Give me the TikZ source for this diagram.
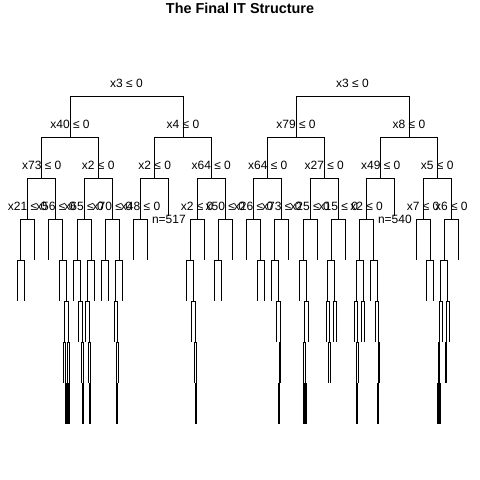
\documentclass[tikz,border=0pt]{standalone}
\usepackage{fontspec}
\setmainfont{Liberation Sans}
\newcommand\lblfont{\fontsize{12}{14}\selectfont}
\tikzset{
  sp/.style={inner sep=0pt, minimum size=0pt, outer sep=0pt},
  lbl/.style={font=\lblfont, yshift=13pt, inner sep=0pt},
  lab/.style={label={[lbl]center:#1}},
  nlbl/.style={font=\lblfont, yshift=0pt, inner sep=0pt},
  nlab/.style={label={[nlbl]center:#1}},
  stub/.style={edge from parent path={(\tikzparentnode.center) -| ([yshift=3.5pt]\tikzchildnode.center)}},
}
\begin{document}
\begin{tikzpicture}[x=1pt, y=-1pt, line width=1pt, grow=down, level distance=41pt,
  level/.style={sibling distance=113pt/(2^(#1-1))},
  edge from parent path={(\tikzparentnode.center) -| (\tikzchildnode.center)}]
\useasboundingbox (0,0) rectangle (480,480);
\node[font=\bfseries\fontsize{14.4}{17}\selectfont, anchor=base] (title) at (240,13) {The Final IT Structure};
% left tree
\node[sp, lab={x3 ≤ 0}] (L) at (126.5,96) {}
  child {node[sp, lab={x40 ≤ 0}] {}
    child {node[sp, lab={x73 ≤ 0}] {}
      child {node[sp, lab={x21 ≤ 0}] {}
        child {node[sp] {} child {node[sp] {}} child {node[sp] {}}}
        child {node[sp] {}}}
      child {node[sp, lab={x56 ≤ 0}] {}
        child {node[sp] {}}
        child {node[sp] {}
          child {node[sp] {}}
          child {node[sp] {}
            child {node[sp] {}
              child {node[sp] {}}
              child {node[sp] {} child {node[sp] {}} child {node[sp] {}}}}
            child {node[sp] {}
              child {node[sp] {} child {node[sp] {}} child {node[sp] {}}}
              child {node[sp] {} child {node[sp] {}} child {node[sp] {}}}}}}}}
    child {node[sp, lab={x2 ≤ 0}] {}
      child {node[sp, lab={x65 ≤ 0}] {}
        child {node[sp] {}
          child {node[sp] {}}
          child {node[sp] {}
            child {node[sp] {}}
            child {node[sp] {}
              child {node[sp] {}}
              child {node[sp] {} child {node[sp] {}} child {node[sp] {}}}}}}
        child {node[sp] {}
          child {node[sp] {}
            child {node[sp] {}}
            child {node[sp] {}
              child {node[sp] {}}
              child {node[sp] {} child {node[sp] {}} child {node[sp] {}}}}}
          child {node[sp] {}}}}
      child {node[sp, lab={x70 ≤ 0}] {}
        child {node[sp] {} child {node[sp] {}} child {node[sp] {}}}
        child {node[sp] {}
          child {node[sp] {}
            child {node[sp] {}}
            child {node[sp] {}
              child {node[sp] {} child {node[sp] {}} child {node[sp] {}}}
              child {node[sp] {}}}}
          child {node[sp] {}}}}}}
  child {node[sp, lab={x4 ≤ 0}] {}
    child {node[sp, lab={x2 ≤ 0}] {}
      child {node[sp, lab={x48 ≤ 0}] {}
        child {node[sp] {}}
        child {node[sp] {}}}
      child[stub] {node[sp, nlab={n=517}] {}}}
    child {node[sp, lab={x64 ≤ 0}] {}
      child {node[sp, lab={x2 ≤ 0}] {}
        child {node[sp] {}
          child {node[sp] {}}
          child {node[sp] {}
            child {node[sp] {}}
            child {node[sp] {}
              child {node[sp] {}}
              child {node[sp] {} child {node[sp] {}} child {node[sp] {}}}}}}
        child {node[sp] {}}}
      child {node[sp, lab={x50 ≤ 0}] {}
        child {node[sp] {} child {node[sp] {}} child {node[sp] {}}}
        child {node[sp] {}}}}};
% right tree
\node[sp, lab={x3 ≤ 0}] (R) at (352.5,96) {}
  child {node[sp, lab={x79 ≤ 0}] {}
    child {node[sp, lab={x64 ≤ 0}] {}
      child {node[sp, lab={x26 ≤ 0}] {}
        child {node[sp] {}}
        child {node[sp] {} child {node[sp] {}} child {node[sp] {}}}}
      child {node[sp, lab={x73 ≤ 0}] {}
        child {node[sp] {}
          child {node[sp] {}}
          child {node[sp] {}
            child {node[sp] {}}
            child {node[sp] {}
              child {node[sp] {} child {node[sp] {}} child {node[sp] {}}}
              child {node[sp] {}}}}}
        child {node[sp] {}}}}
    child {node[sp, lab={x27 ≤ 0}] {}
      child {node[sp, lab={x25 ≤ 0}] {}
        child {node[sp] {}
          child {node[sp] {}}
          child {node[sp] {}
            child {node[sp] {}
              child {node[sp] {} child {node[sp] {}} child {node[sp] {}}}
              child {node[sp] {} child {node[sp] {}} child {node[sp] {}}}}
            child {node[sp] {}}}}
        child {node[sp] {}}}
      child {node[sp, lab={x15 ≤ 0}] {}
        child {node[sp] {}
          child {node[sp] {}
            child {node[sp] {}}
            child {node[sp] {} child {node[sp] {}} child {node[sp] {}}}}
          child {node[sp] {} child {node[sp] {}} child {node[sp] {}}}}
        child {node[sp] {}}}}}
  child {node[sp, lab={x8 ≤ 0}] {}
    child {node[sp, lab={x49 ≤ 0}] {}
      child {node[sp, lab={x2 ≤ 0}] {}
        child {node[sp] {}
          child {node[sp] {}
            child {node[sp] {}}
            child {node[sp] {}
              child {node[sp] {} child {node[sp] {}} child {node[sp] {}}}
              child {node[sp] {}}}}
          child {node[sp] {} child {node[sp] {}} child {node[sp] {}}}}
        child {node[sp] {}
          child {node[sp] {}}
          child {node[sp] {}
            child {node[sp] {}}
            child {node[sp] {}
              child {node[sp] {} child {node[sp] {}} child {node[sp] {}}}
              child {node[sp] {}}}}}}
      child[stub] {node[sp, nlab={n=540}] {}}}
    child {node[sp, lab={x5 ≤ 0}] {}
      child {node[sp, lab={x7 ≤ 0}] {}
        child {node[sp] {}}
        child {node[sp] {} child {node[sp] {}} child {node[sp] {}}}}
      child {node[sp, lab={x6 ≤ 0}] {}
        child {node[sp] {}
          child {node[sp] {}
            child {node[sp] {}
              child {node[sp] {} child {node[sp] {}} child {node[sp] {}}}
              child {node[sp] {} child {node[sp] {}} child {node[sp] {}}}}
            child {node[sp] {}}}
          child {node[sp] {}
            child {node[sp] {} child {node[sp] {}} child {node[sp] {}}}
            child {node[sp] {}}}}
        child {node[sp] {}}}}};
\end{tikzpicture}
\end{document}
